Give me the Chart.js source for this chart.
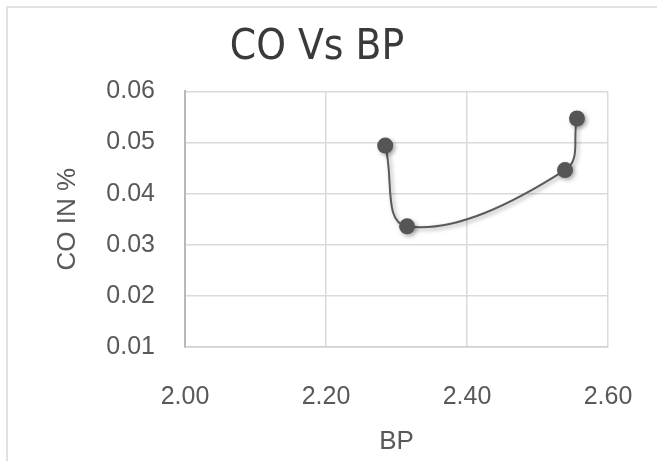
<!DOCTYPE html>
<html>
<head>
<meta charset="utf-8">
<script src="https://cdn.jsdelivr.net/npm/chart.js@4/dist/chart.umd.min.js"></script>
<style>
  html, body { margin: 0; padding: 0; background: #ffffff; }
  #wrap { position: relative; width: 657px; height: 461px; overflow: hidden; }
  #frame { position: absolute; left: 6px; top: 6px; width: 700px; height: 500px;
           border-left: 2px solid #e2e2e2; border-top: 2px solid #e2e2e2; }
  canvas { position: absolute; left: 0; top: 0; }
</style>
</head>
<body>
<div id="wrap">
  <div id="frame"></div>
  <canvas id="c" width="657" height="461"></canvas>
</div>
<script>
// ---- data ----
const chartTitle = "CO Vs BP";
const xAxisTitle = "BP";
const yAxisTitle = "CO IN %";
const bpValues = [2.284, 2.315, 2.539, 2.556];
const coValues = [0.0494, 0.0336, 0.0446, 0.0547];
const xTicks = [2.00, 2.20, 2.40, 2.60];
const yTicks = [0.01, 0.02, 0.03, 0.04, 0.05, 0.06];

const points = bpValues.map((x, i) => ({ x: x, y: coValues[i] }));

const shadowPlugin = {
  id: 'shadow',
  beforeDatasetsDraw(chart) {
    const ctx = chart.ctx;
    ctx.save();
    ctx.shadowColor = 'rgba(0,0,0,0.35)';
    ctx.shadowBlur = 4;
    ctx.shadowOffsetX = 2;
    ctx.shadowOffsetY = 2;
  },
  afterDatasetsDraw(chart) {
    chart.ctx.restore();
  }
};

const tickFont = { family: "'Liberation Sans', Arial, sans-serif", size: 25 };
const axisFont = { family: "'Liberation Sans', Arial, sans-serif", size: 26 };

new Chart(document.getElementById('c'), {
  type: 'scatter',
  data: {
    datasets: [{
      data: points,
      showLine: true,
      tension: 0.4,
      borderColor: '#5a5a5a',
      borderWidth: 2,
      pointRadius: 8,
      pointHoverRadius: 8,
      pointBackgroundColor: '#555555',
      pointBorderColor: '#555555',
      pointBorderWidth: 0
    }]
  },
  options: {
    responsive: false,
    animation: false,
    events: [],
    layout: { padding: { left: 26, right: 49, top: 0, bottom: 0 } },
    plugins: {
      legend: { display: false },
      tooltip: { enabled: false },
      title: {
        display: true,
        text: chartTitle,
        color: '#3a3a3a',
        font: { family: "'DejaVu Sans Condensed', 'Liberation Sans Narrow', 'Liberation Sans', sans-serif", size: 42, weight: 'normal', lineHeight: 1.2 },
        padding: { top: 23, bottom: 18 }
      }
    },
    scales: {
      x: {
        type: 'linear',
        min: xTicks[0],
        max: xTicks[xTicks.length - 1],
        afterBuildTicks: (scale) => { scale.ticks = xTicks.map(v => ({ value: v })); },
        afterFit: (scale) => { scale.height = 114; scale.paddingLeft = 0; scale.paddingRight = 0; },
        ticks: {
          color: '#595959',
          font: tickFont,
          padding: 35,
          maxRotation: 0,
          callback: (v) => Number(v).toFixed(2)
        },
        grid: { color: '#dadada', lineWidth: 1.5, drawTicks: false },
        border: { color: '#d0d0d0', width: 1.5 },
        title: {
          display: true,
          text: xAxisTitle,
          color: '#595959',
          font: axisFont,
          padding: { top: 4, bottom: 4 }
        }
      },
      y: {
        type: 'linear',
        min: yTicks[0],
        max: yTicks[yTicks.length - 1],
        afterBuildTicks: (scale) => { scale.ticks = yTicks.map(v => ({ value: v })); },
        afterFit: (scale) => { scale.width = 159; },
        ticks: {
          color: '#595959',
          font: tickFont,
          padding: 30,
          callback: (v) => Number(v).toFixed(2)
        },
        grid: { color: '#dadada', lineWidth: 1.5, drawTicks: false },
        border: { color: '#b8b8b8', width: 2 },
        title: {
          display: true,
          text: yAxisTitle,
          color: '#595959',
          font: axisFont,
          padding: { top: 26, bottom: 26 }
        }
      }
    }
  },
  plugins: [shadowPlugin]
});
</script>
</body>
</html>
